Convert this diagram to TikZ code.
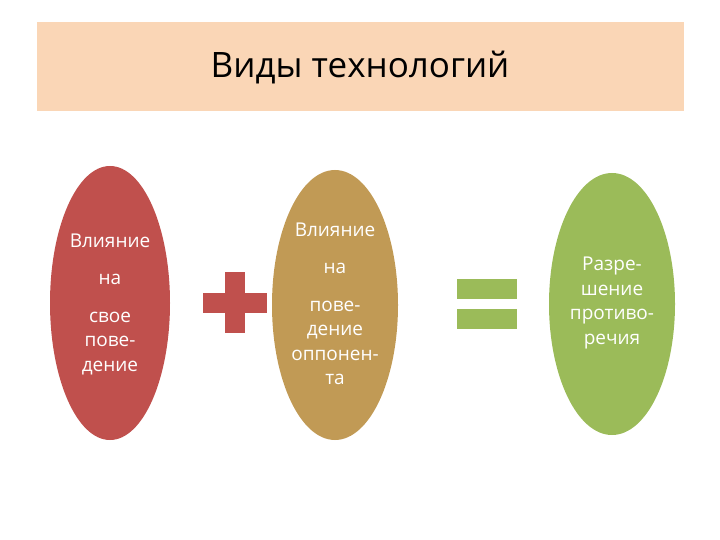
\documentclass[tikz,border=0pt]{standalone}
\usepackage{fontspec}
\setmainfont{Open Sans}
\usetikzlibrary{shapes.geometric}
\definecolor{peach}{HTML}{FAD6B6}
\definecolor{cred}{HTML}{C0504D}
\definecolor{cgold}{HTML}{C19A55}
\definecolor{cgreen}{HTML}{9BBB59}
\begin{document}
\begin{tikzpicture}[x=1pt,y=-1pt,
  txt/.style={text=white,align=center,font=\fontsize{19}{24.5}\selectfont}]
\useasboundingbox (0,0) rectangle (720,540);
\fill[peach] (37,22) rectangle (684,111);
\node[font=\fontsize{35}{40}\selectfont] (title) at (360,68) {Виды технологий};
\fill[cred] (110,303) ellipse [x radius=60,y radius=137];
\fill[cgold] (335,305) ellipse [x radius=63,y radius=135];
\fill[cgreen] (612,304) ellipse [x radius=63,y radius=131];
\node[txt] (t1) at (110,304) {Влияние\\[13pt] на\\[13pt] свое\\ пове-\\ дение};
\node[txt] (t2) at (335,304) {Влияние\\[13pt] на\\[13pt] пове-\\ дение\\ оппонен-\\ та};
\node[txt] (t3) at (612,303) {Разре-\\ шение\\ противо-\\ речия};
\fill[cred] (225,272) rectangle (245,333);
\fill[cred] (203,293) rectangle (267,313);
\fill[cgreen] (457,279) rectangle (517,299);
\fill[cgreen] (457,309) rectangle (517,329);
\end{tikzpicture}
\end{document}
